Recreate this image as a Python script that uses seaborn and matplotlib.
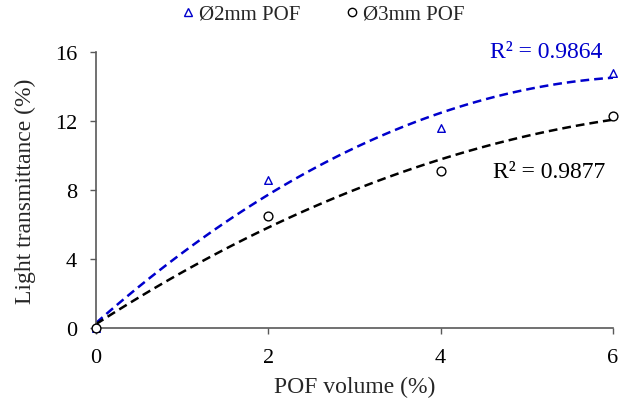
import numpy as np
import pandas as pd
import matplotlib
matplotlib.use("Agg")
import matplotlib.pyplot as plt
import seaborn as sns
from matplotlib.lines import Line2D

volume = [0, 2, 4, 6]
pof2 = [0.0, 8.6, 11.6, 14.8]
pof3 = [0.0, 6.5, 9.1, 12.3]
series_names = ["Ø2mm POF", "Ø3mm POF"]
r2_labels = ["R² = 0.9864", "R² = 0.9877"]
xticks = [0, 2, 4, 6]
yticks = [0, 4, 8, 12, 16]

sns.set_theme(style="ticks")
plt.rcParams['font.family'] = ['Liberation Serif', 'DejaVu Serif']

blue = "#0000CC"
fig = plt.figure(figsize=(6.21, 4.10), dpi=100)
ax = fig.add_axes([96/621, 81/410, 517/621, 276/410])

df = pd.DataFrame({"x": volume, "a": pof2, "b": pof3})

sns.regplot(data=df, x="x", y="a", order=2, ci=None, scatter=False, ax=ax,
            line_kws=dict(color=blue, ls=(0, (3.5, 2)), lw=1.8))
sns.regplot(data=df, x="x", y="b", order=2, ci=None, scatter=False, ax=ax,
            line_kws=dict(color="black", ls=(0, (3.5, 2)), lw=1.8))

ax.scatter(volume, pof2, marker="^", s=30, facecolors="white", edgecolors=blue,
           linewidths=1.0, zorder=3, clip_on=False)
ax.scatter(volume, pof3, marker="o", s=40, facecolors="white", edgecolors="black",
           linewidths=1.0, zorder=4, clip_on=False)

ax.text(5.22, 16.0, r2_labels[0], color=blue, fontsize=17, ha="center", va="center")
ax.text(5.26, 9.1, r2_labels[1], color="black", fontsize=17, ha="center", va="center")

ax.set_xlim(0, 6)
ax.set_ylim(0, 16)
ax.set_xticks(xticks)
ax.set_yticks(yticks)
ax.tick_params(labelsize=16, colors="#595959", labelcolor="black", length=4.5, width=1)
ax.tick_params(axis="x", pad=10)
ax.tick_params(axis="y", pad=9)
ax.set_xlabel("POF volume (%)", fontsize=17, labelpad=6)
ax.set_ylabel("Light transmittance (%)", fontsize=17, labelpad=14)
for s in ["left", "bottom"]:
    ax.spines[s].set_color("#595959")
    ax.spines[s].set_linewidth(1.2)
sns.despine(ax=ax)

handles = [Line2D([], [], marker="^", ls="", markerfacecolor="white", markeredgecolor=blue, markersize=6),
           Line2D([], [], marker="o", ls="", markerfacecolor="white", markeredgecolor="black", markersize=6)]
fig.legend(handles, series_names, loc="center", bbox_to_anchor=(321/621, 1 - 15/410), ncol=2,
           frameon=False, fontsize=15, handletextpad=0.0, columnspacing=2.0, handlelength=1)

fig.savefig("out.png", dpi=100)
